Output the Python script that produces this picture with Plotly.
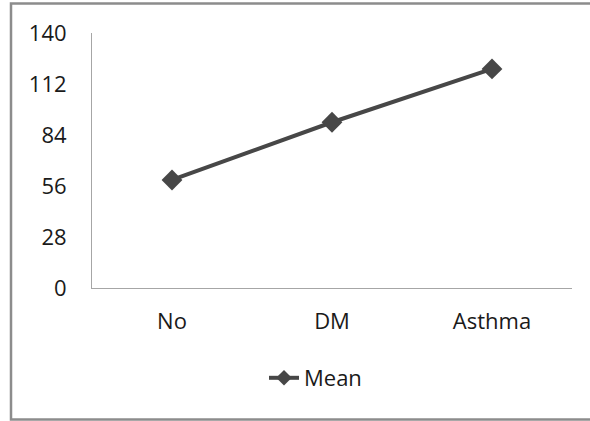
import plotly.graph_objects as go

categories = ["No", "DM", "Asthma"]
mean_values = [59.3, 91.0, 120.3]
y_ticks = [0, 28, 56, 84, 112, 140]

W, H = 590, 421
ml, mr, mt, mb = 92, 18, 33, 133
pw = W - ml - mr
ph = H - mt - mb

def px_to_paper_x(px):
    return (px - ml) / pw

def px_to_paper_y(py):
    return (H - mb - py) / ph

LINE_COLOR = "#474747"

fig = go.Figure()
fig.add_trace(go.Scatter(
    x=categories, y=mean_values, name="Mean",
    mode="lines+markers", showlegend=False,
    line=dict(color=LINE_COLOR, width=4),
    marker=dict(symbol="diamond", size=16, color=LINE_COLOR),
))
# legend entry with a smaller marker, as in the reference legend
fig.add_trace(go.Scatter(
    x=[None], y=[None], name="Mean",
    mode="lines+markers",
    line=dict(color=LINE_COLOR, width=4),
    marker=dict(symbol="diamond", size=12, color=LINE_COLOR),
))

font = dict(family="Open Sans, Lato, sans-serif", size=22, color="#1a1a1a")

fig.update_layout(
    width=W, height=H,
    margin=dict(l=ml, r=mr, t=mt, b=mb, autoexpand=False),
    paper_bgcolor="white", plot_bgcolor="white",
    font=font,
    showlegend=True,
    legend=dict(orientation="h", x=px_to_paper_x(264), xanchor="left",
                y=px_to_paper_y(378), yanchor="middle",
                font=font, bgcolor="rgba(0,0,0,0)"),
    xaxis=dict(range=[-0.5, 2.5], showgrid=False, showline=True,
               linecolor="#a6a6a6", linewidth=1,
               ticks="", ticklabelstandoff=14, zeroline=False, fixedrange=True),
    yaxis=dict(range=[0, 140], tickvals=y_ticks, showgrid=False, showline=True,
               linecolor="#a6a6a6", linewidth=1, ticks="", ticklabelstandoff=20,
               zeroline=False, fixedrange=True),
    shapes=[dict(type="rect", xref="paper", yref="paper",
                 x0=px_to_paper_x(11), x1=px_to_paper_x(600),
                 y0=px_to_paper_y(419.5), y1=px_to_paper_y(3.5),
                 line=dict(color="#8c8c8c", width=2.5), layer="below")],
)

fig.write_html("out.html", config={"displayModeBar": False},
               post_script="document.body.style.margin='0';")
